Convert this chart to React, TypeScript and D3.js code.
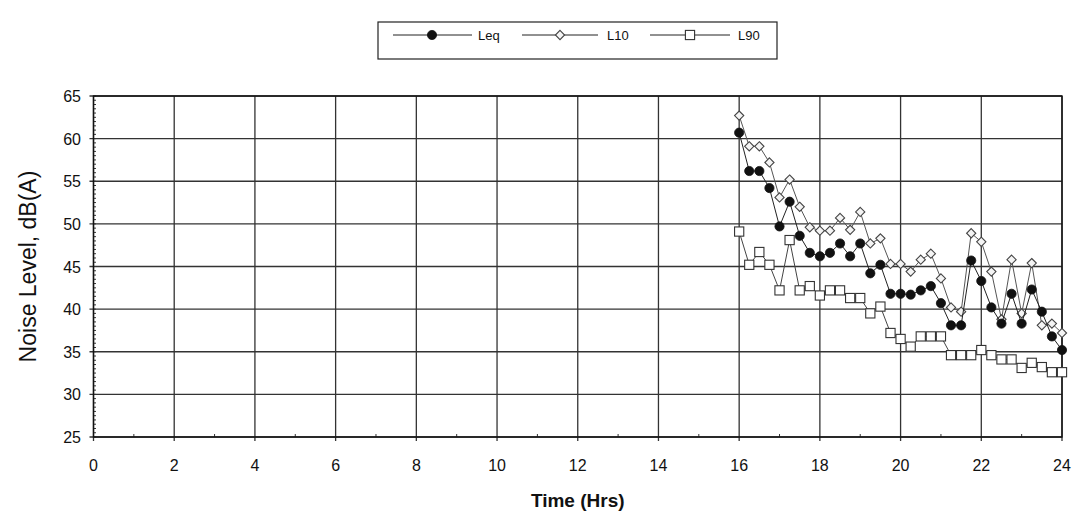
import React from "react";
import * as d3 from "d3";

// Time of day (hours), 15-minute intervals from 16:00 to 24:00
const hours: number[] = [
  16, 16.25, 16.5, 16.75, 17, 17.25, 17.5, 17.75, 18, 18.25, 18.5, 18.75, 19,
  19.25, 19.5, 19.75, 20, 20.25, 20.5, 20.75, 21, 21.25, 21.5, 21.75, 22, 22.25,
  22.5, 22.75, 23, 23.25, 23.5, 23.75, 24,
];

const leq: number[] = [
  60.7, 56.2, 56.2, 54.2, 49.7, 52.6, 48.6, 46.6, 46.2, 46.6, 47.7, 46.2, 47.7,
  44.2, 45.2, 41.8, 41.8, 41.7, 42.2, 42.7, 40.7, 38.1, 38.1, 45.7, 43.3, 40.2,
  38.3, 41.8, 38.3, 42.3, 39.7, 36.8, 35.2,
];

const l10: number[] = [
  62.7, 59.1, 59.1, 57.2, 53.1, 55.2, 52.0, 49.6, 49.2, 49.2, 50.7, 49.3, 51.4,
  47.7, 48.3, 45.3, 45.3, 44.4, 45.8, 46.5, 43.6, 40.2, 39.7, 48.9, 47.9, 44.4,
  38.8, 45.8, 39.5, 45.4, 38.1, 38.3, 37.2,
];

const l90: number[] = [
  49.1, 45.2, 46.7, 45.2, 42.2, 48.1, 42.2, 42.7, 41.6, 42.2, 42.2, 41.3, 41.3,
  39.5, 40.3, 37.2, 36.5, 35.6, 36.8, 36.8, 36.8, 34.6, 34.6, 34.6, 35.2, 34.6,
  34.1, 34.1, 33.1, 33.7, 33.2, 32.6, 32.6,
];

const xTicks: number[] = [0, 2, 4, 6, 8, 10, 12, 14, 16, 18, 20, 22, 24];
const yTicks: number[] = [25, 30, 35, 40, 45, 50, 55, 60, 65];
const seriesNames: string[] = ["Leq", "L10", "L90"];

const W = 1078;
const H = 521;
const left = 93.5;
const right = 1062;
const top = 96;
const bottom = 437;

const FONT = "'Liberation Sans', Arial, Helvetica, sans-serif";
const INK = "#222";

type Marker = "circle" | "diamond" | "square";

function MarkerShape({ kind, x, y }: { kind: Marker; x: number; y: number }) {
  if (kind === "circle") {
    return <circle cx={x} cy={y} r={4.6} fill="#111" stroke="#111" strokeWidth={0.8} />;
  }
  if (kind === "diamond") {
    const s = 4.6;
    return (
      <path
        d={`M${x},${y - s}L${x + s},${y}L${x},${y + s}L${x - s},${y}Z`}
        fill="#f4f4f4"
        stroke="#444"
        strokeWidth={1.1}
      />
    );
  }
  const s = 4.6;
  return (
    <rect x={x - s} y={y - s} width={2 * s} height={2 * s} fill="#fff" stroke="#333" strokeWidth={1.1} />
  );
}

export default function App() {
  const x = d3.scaleLinear().domain([0, 24]).range([left, right]);
  const y = d3.scaleLinear().domain([25, 65]).range([bottom, top]);

  const line = d3
    .line<number>()
    .x((_, i) => x(hours[i]))
    .y((v) => y(v));

  const series: { name: string; values: number[]; marker: Marker; stroke: string }[] = [
    { name: seriesNames[2], values: l90, marker: "square", stroke: "#444" },
    { name: seriesNames[1], values: l10, marker: "diamond", stroke: "#555" },
    { name: seriesNames[0], values: leq, marker: "circle", stroke: "#222" },
  ];

  const yMinor = d3.range(25, 65.01, 0.5);
  const xMinor = d3.range(1, 24, 2);

  const legendItems: { name: string; marker: Marker; x1: number; x2: number; mx: number; tx: number }[] = [
    { name: seriesNames[0], marker: "circle", x1: 393, x2: 472, mx: 432, tx: 478 },
    { name: seriesNames[1], marker: "diamond", x1: 522, x2: 598, mx: 560, tx: 607 },
    { name: seriesNames[2], marker: "square", x1: 650, x2: 730, mx: 690, tx: 738 },
  ];
  const legendY = 35;

  return (
    <svg
      width={W}
      height={H}
      style={{ position: "absolute", left: 0, top: 0, background: "#fff" }}
      fontFamily={FONT}
    >
      {/* legend */}
      <rect x={378} y={22} width={399} height={37} fill="#fff" stroke={INK} strokeWidth={1.2} />
      {legendItems.map((it) => (
        <g key={it.name}>
          <line x1={it.x1} x2={it.x2} y1={legendY} y2={legendY} stroke="#222" strokeWidth={1} />
          <MarkerShape kind={it.marker} x={it.mx} y={legendY} />
          <text x={it.tx} y={legendY + 4.5} fontSize={13} fill="#111">
            {it.name}
          </text>
        </g>
      ))}

      {/* grid */}
      {yTicks.map((t) => (
        <line key={`gy${t}`} x1={left - 4} x2={right} y1={y(t)} y2={y(t)} stroke="#333" strokeWidth={1.3} />
      ))}
      {xTicks.map((t) => (
        <line key={`gx${t}`} x1={x(t)} x2={x(t)} y1={top} y2={bottom + 4} stroke="#333" strokeWidth={1.3} />
      ))}

      {/* minor ticks */}
      {yMinor.map((t) => (
        <line key={`my${t}`} x1={left} x2={left + 2.5} y1={y(t)} y2={y(t)} stroke="#333" strokeWidth={1} />
      ))}
      {xMinor.map((t) => (
        <line key={`mx${t}`} x1={x(t)} x2={x(t)} y1={bottom} y2={bottom - 3} stroke="#333" strokeWidth={1} />
      ))}

      {/* plot frame */}
      <rect x={left} y={top} width={right - left} height={bottom - top} fill="none" stroke="#111" strokeWidth={1.4} />

      {/* tick labels */}
      {yTicks.map((t) => (
        <text key={`ly${t}`} x={81} y={y(t) + 6} fontSize={16} textAnchor="end" fill="#111">
          {t}
        </text>
      ))}
      {xTicks.map((t) => (
        <text key={`lx${t}`} x={x(t)} y={471} fontSize={16} textAnchor="middle" fill="#111">
          {t}
        </text>
      ))}

      {/* axis titles */}
      <text
        transform={`translate(36, ${(top + bottom) / 2}) rotate(-90)`}
        fontSize={23}
        textAnchor="middle"
        fill="#111"
      >
        Noise Level, dB(A)
      </text>
      <text x={(left + right) / 2} y={507} fontSize={19} fontWeight="bold" textAnchor="middle" fill="#111">
        Time (Hrs)
      </text>

      {/* series */}
      {series.map((s) => (
        <g key={s.name}>
          <path d={line(s.values) || ""} fill="none" stroke={s.stroke} strokeWidth={1} />
          {s.values.map((v, i) => (
            <MarkerShape key={i} kind={s.marker} x={x(hours[i])} y={y(v)} />
          ))}
        </g>
      ))}
    </svg>
  );
}
